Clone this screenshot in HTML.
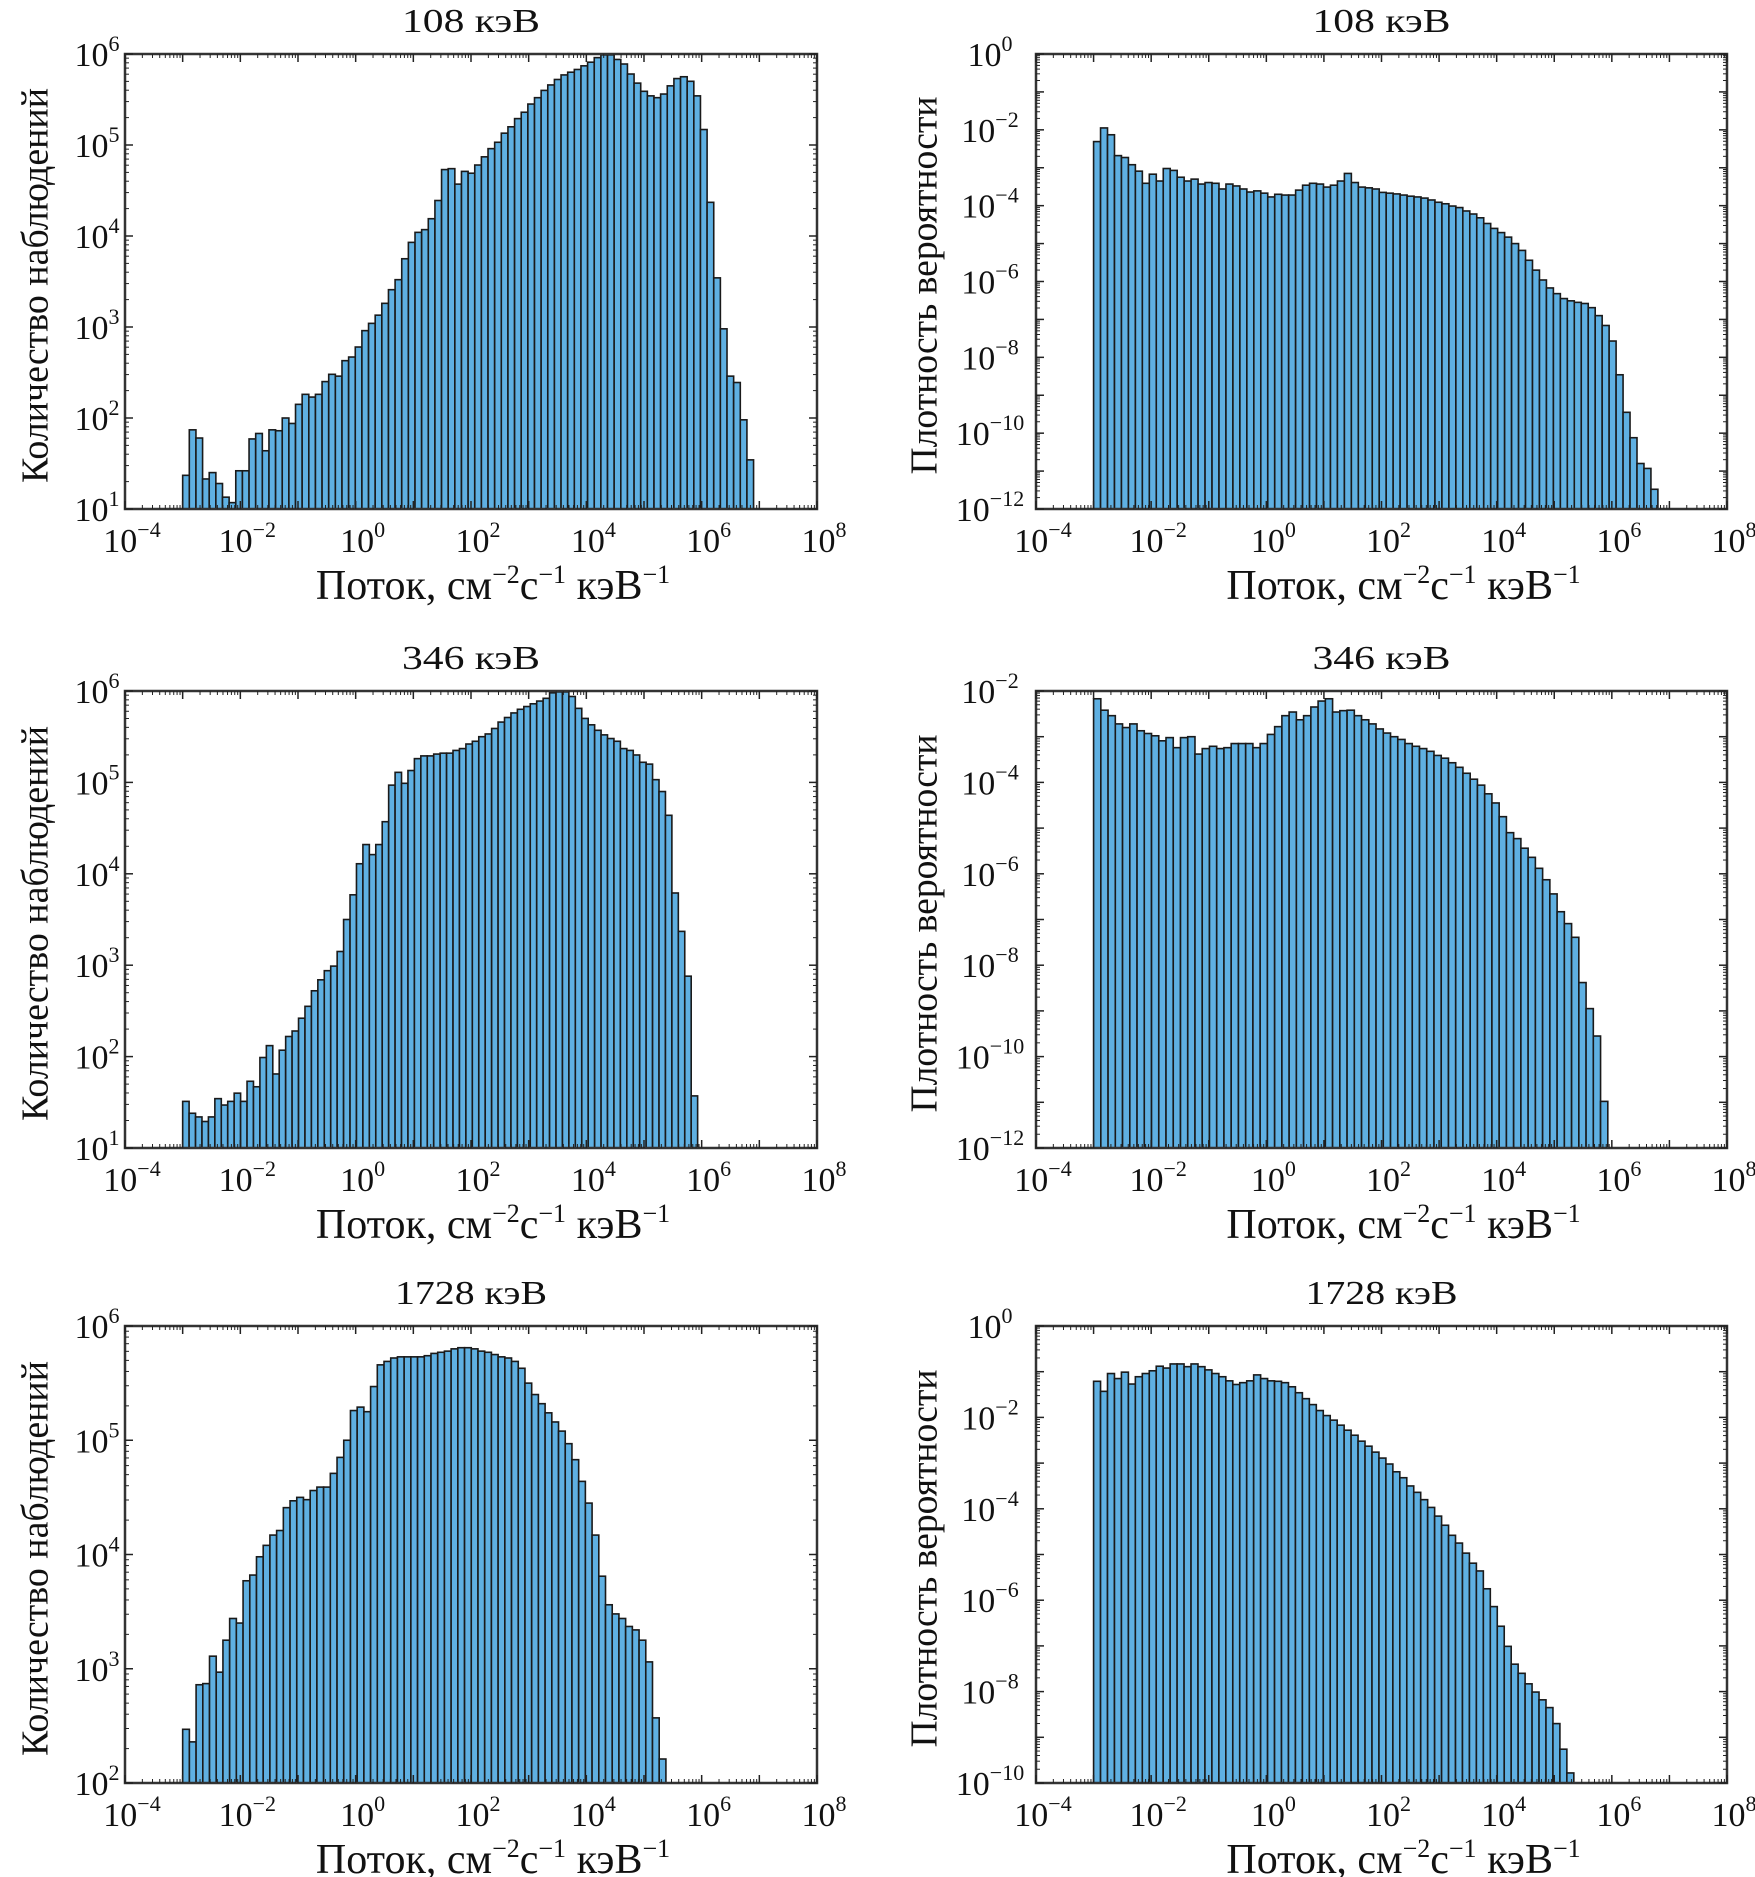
<!DOCTYPE html>
<html><head><meta charset="utf-8">
<style>
html,body{margin:0;padding:0;background:#fff;}
svg{display:block;}
text{font-family:"Liberation Serif","DejaVu Serif",serif;fill:#111;}
</style></head>
<body>
<svg id="fig" xmlns="http://www.w3.org/2000/svg" width="1755" height="1877" viewBox="0 0 1755 1877"></svg>
<script>
// ---- data (log10 values of bar heights) ----
const titles = ["108 кэВ","108 кэВ","346 кэВ","346 кэВ","1728 кэВ","1728 кэВ"];
const xTickExps = [-4,-2,0,2,4,6,8];
const binStart = [-3,-3,-3,-3,-3,-3];
const binEnd = [6.9,6.8,5.93,5.93,5.38,5.34];
const yMin = [1,-12,1,-12,2,-10];
const yMax = [6,0,6,-2,6,0];
const yTickStep = [1,2,1,2,1,2];
const counts108 = [1.37,1.87,1.78,1.33,1.40,1.28,1.13,1.07,1.42,1.42,1.77,1.83,1.64,1.87,1.86,2.0,1.94,2.15,2.26,2.23,2.26,2.40,2.48,2.46,2.63,2.67,2.78,2.96,3.04,3.13,3.26,3.41,3.52,3.75,3.93,4.04,4.07,4.19,4.39,4.73,4.74,4.57,4.71,4.69,4.78,4.87,4.96,5.03,5.13,5.20,5.29,5.36,5.45,5.52,5.60,5.66,5.72,5.77,5.80,5.83,5.87,5.91,5.96,5.99,5.99,5.94,5.89,5.78,5.68,5.59,5.54,5.52,5.56,5.65,5.73,5.75,5.70,5.54,5.17,4.37,3.54,2.98,2.46,2.39,1.98,1.54];
const density108 = [-2.31,-1.95,-2.13,-2.68,-2.73,-2.92,-3.09,-3.41,-3.17,-3.35,-3.02,-3.07,-3.25,-3.35,-3.30,-3.43,-3.39,-3.41,-3.56,-3.43,-3.48,-3.56,-3.64,-3.61,-3.67,-3.77,-3.70,-3.72,-3.72,-3.59,-3.46,-3.41,-3.43,-3.51,-3.46,-3.35,-3.15,-3.39,-3.51,-3.53,-3.56,-3.65,-3.67,-3.69,-3.72,-3.75,-3.77,-3.80,-3.85,-3.91,-3.95,-4.01,-4.05,-4.14,-4.22,-4.32,-4.47,-4.60,-4.71,-4.83,-5.00,-5.18,-5.44,-5.70,-5.96,-6.17,-6.32,-6.45,-6.51,-6.55,-6.58,-6.69,-6.90,-7.16,-7.57,-8.46,-9.45,-10.12,-10.80,-10.93,-11.48];
const counts346 = [1.51,1.38,1.34,1.29,1.34,1.54,1.47,1.51,1.60,1.51,1.73,1.67,1.99,2.12,1.81,2.07,2.22,2.28,2.42,2.55,2.72,2.84,2.94,2.99,3.15,3.50,3.77,4.11,4.32,4.21,4.32,4.57,4.97,5.11,4.99,5.13,5.26,5.29,5.29,5.31,5.32,5.32,5.35,5.37,5.42,5.45,5.50,5.53,5.59,5.66,5.71,5.76,5.80,5.83,5.86,5.89,5.92,5.98,5.99,5.99,5.94,5.81,5.70,5.63,5.57,5.52,5.48,5.45,5.37,5.35,5.30,5.22,5.20,5.03,4.90,4.64,3.79,3.37,2.88,1.57];
const density346 = [-2.17,-2.42,-2.54,-2.72,-2.80,-2.72,-2.87,-2.93,-2.98,-3.09,-3.02,-3.24,-3.02,-3.00,-3.38,-3.26,-3.21,-3.26,-3.24,-3.15,-3.15,-3.15,-3.24,-3.15,-2.95,-2.78,-2.54,-2.46,-2.63,-2.54,-2.35,-2.22,-2.17,-2.46,-2.43,-2.42,-2.54,-2.63,-2.72,-2.83,-2.92,-3.00,-3.06,-3.15,-3.21,-3.26,-3.32,-3.41,-3.47,-3.57,-3.67,-3.80,-3.93,-4.06,-4.25,-4.45,-4.75,-5.10,-5.23,-5.44,-5.64,-5.88,-6.13,-6.44,-6.83,-7.09,-7.39,-8.38,-8.95,-9.55,-10.98];
const counts1728 = [2.47,2.36,2.86,2.87,3.11,2.97,3.25,3.44,3.40,3.77,3.82,3.98,4.08,4.17,4.21,4.41,4.47,4.50,4.48,4.56,4.59,4.59,4.71,4.85,5.00,5.26,5.29,5.25,5.47,5.66,5.69,5.72,5.73,5.73,5.73,5.73,5.74,5.76,5.77,5.78,5.80,5.81,5.81,5.80,5.78,5.77,5.75,5.73,5.72,5.69,5.63,5.50,5.40,5.32,5.24,5.16,5.08,4.97,4.83,4.64,4.45,4.17,3.81,3.56,3.48,3.44,3.37,3.34,3.25,3.06,2.57,2.21];
const density1728 = [-1.21,-1.43,-1.04,-1.15,-1.01,-1.27,-1.11,-1.04,-0.98,-0.88,-0.92,-0.83,-0.83,-0.89,-0.83,-0.89,-0.96,-1.04,-1.11,-1.20,-1.28,-1.24,-1.20,-1.07,-1.15,-1.20,-1.21,-1.24,-1.33,-1.46,-1.59,-1.72,-1.85,-1.96,-2.06,-2.17,-2.28,-2.39,-2.52,-2.63,-2.76,-2.89,-3.02,-3.19,-3.32,-3.50,-3.64,-3.80,-3.97,-4.16,-4.36,-4.58,-4.75,-4.97,-5.19,-5.36,-5.75,-6.14,-6.57,-7.01,-7.40,-7.60,-7.83,-8.01,-8.18,-8.35,-8.70,-9.26,-9.78];
const series = [counts108,density108,counts346,density346,counts1728,density1728];
const yLabels = ["Количество наблюдений","Плотность вероятности"];

// ---- layout ----
const NS="http://www.w3.org/2000/svg";
const svg=document.getElementById('fig');
const colX=[[125,817],[1036,1727]];
const rowY=[[54,509],[691,1148],[1326,1783]];
function el(tag,attrs,parent){const e=document.createElementNS(NS,tag);for(const k in attrs)e.setAttribute(k,attrs[k]);(parent||svg).appendChild(e);return e;}
function powLabel(g,x,y,exp,anchor){
  const t=el('text',{x:x,y:y,'font-size':34,'text-anchor':anchor},g);
  
  
  const a=el('tspan',{},t);a.textContent='10';
  const b=el('tspan',{dy:-15,'font-size':22},t);b.textContent=(exp<0?'\u2212'+(-exp):String(exp));
}
for(let p=0;p<6;p++){
  const col=p%2,row=Math.floor(p/2);
  const [L,R]=colX[col],[T,B]=rowY[row];
  const g=el('g',{});
  
  
  const xs=v=>L+(v+4)/12*(R-L);
  const ys=v=>B-(v-yMin[p])/(yMax[p]-yMin[p])*(B-T);
  const vals=series[p];
  const w=(binEnd[p]-binStart[p])/vals.length;
  const bg=el('g',{},g);
  
  
  vals.forEach((v,i)=>{
    const x0=xs(binStart[p]+i*w),x1=xs(binStart[p]+(i+1)*w);
    const y0=ys(Math.min(v,yMax[p]));
    const r=el('rect',{x:x0,y:y0,width:x1-x0,height:B-y0,fill:'#5fb0e2',stroke:'#1a1a1a','stroke-width':1.6},bg);
    
    
  });
  const fr=el('rect',{x:L,y:T,width:R-L,height:B-T,fill:'none',stroke:'#333','stroke-width':2.5},g);
  
  
  for(let e=-4;e<=8;e++){
    const x=xs(e);
    el('line',{x1:x,y1:B,x2:x,y2:B-8,stroke:'#222','stroke-width':1.5},g);
    el('line',{x1:x,y1:T,x2:x,y2:T+8,stroke:'#222','stroke-width':1.5},g);
    if(e<8)for(let m=2;m<10;m++){const xm=xs(e+Math.log10(m));
      el('line',{x1:xm,y1:B,x2:xm,y2:B-4,stroke:'#222','stroke-width':1},g);
      el('line',{x1:xm,y1:T,x2:xm,y2:T+4,stroke:'#222','stroke-width':1},g);}
  }
  xTickExps.forEach(e=>powLabel(g,xs(e)+7,B+43,e,'middle'));
  for(let e=yMin[p];e<=yMax[p];e++){
    const y=ys(e);
    el('line',{x1:L,y1:y,x2:L+8,y2:y,stroke:'#222','stroke-width':1.5},g);
    el('line',{x1:R,y1:y,x2:R-8,y2:y,stroke:'#222','stroke-width':1.5},g);
    if(e<yMax[p])for(let m=2;m<10;m++){const ym=ys(e+Math.log10(m));
      el('line',{x1:L,y1:ym,x2:L+4,y2:ym,stroke:'#222','stroke-width':1},g);
      el('line',{x1:R,y1:ym,x2:R-4,y2:ym,stroke:'#222','stroke-width':1},g);}
    if((e-yMin[p])%yTickStep[p]===0){
      powLabel(g,L-(col?46:28),y+12,e,'middle');
    }
  }
  const tt=el('text',{x:(L+R)/2,y:T-22,'font-size':34,'text-anchor':'middle',textLength:titles[p].length>7?152:138,lengthAdjust:'spacingAndGlyphs'},g);
  
  
  tt.textContent=titles[p];
  const xl=el('text',{x:(L+R)/2+22,y:B+90,'font-size':42,'text-anchor':'middle'},g);
  
  
  const parts=[['Поток, см',0,42],['\u22122',-16,26],['с',16,42],['\u22121',-16,26],[' кэВ',16,42],['\u22121',-16,26]];
  parts.forEach(([s,dy,fs])=>{const ts=el('tspan',{dy:dy,'font-size':fs},xl);ts.textContent=s;});
  const cx=col?928:39, cy=(T+B)/2+4;
  const yl=el('text',{x:cx,y:cy,'font-size':38,'text-anchor':'middle',transform:'rotate(-90 '+cx+' '+cy+')',textLength:col?378:395,lengthAdjust:'spacingAndGlyphs','dominant-baseline':'middle'},g);
  
  
  yl.textContent=yLabels[col];
}
</script>
</body></html>
